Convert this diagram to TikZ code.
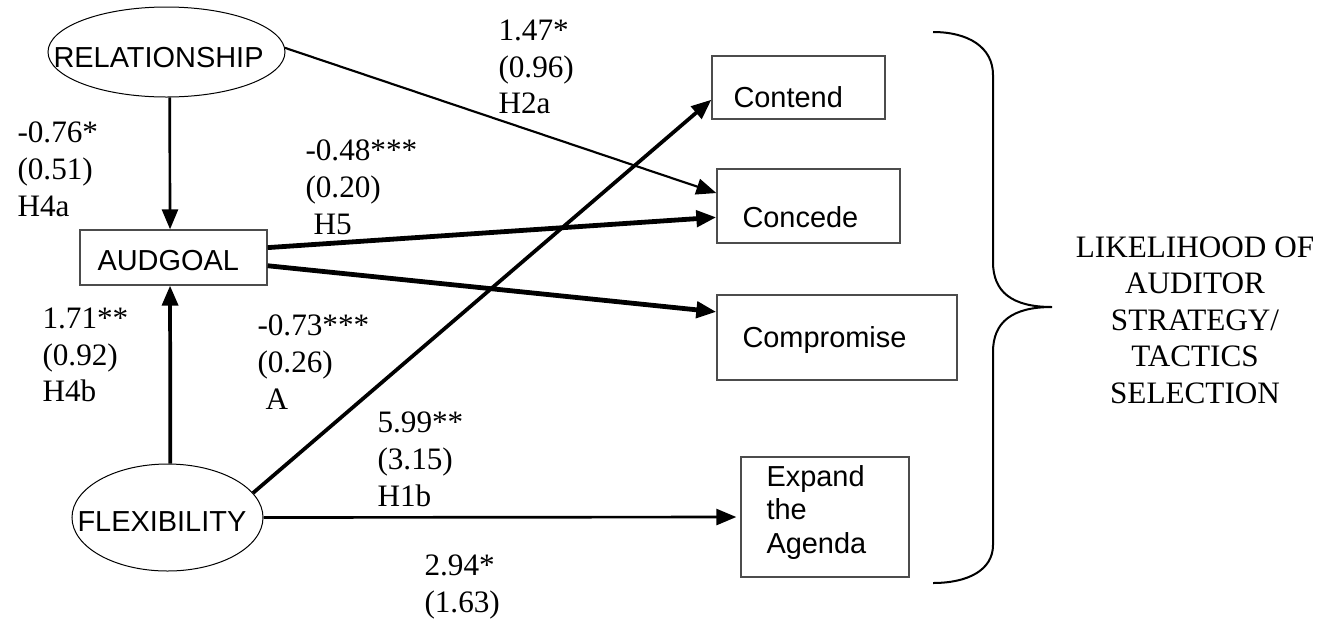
\documentclass[tikz,border=0pt]{standalone}
\usepackage{fontspec}
\setmainfont{Liberation Serif}
\setsansfont{Liberation Sans}
\usetikzlibrary{shapes.geometric,arrows.meta}

\tikzset{every picture/.style={line width=0.75pt}}
\tikzset{
  latent/.style={draw=black, ellipse, inner sep=0pt},
  obsbox/.style={draw=black!70, rectangle, inner sep=0pt, line width=1pt},
  boxtext/.style={inner sep=0pt, align=left, font=\sffamily\fontsize{21.7}{25.1}\selectfont},
  coef/.style={inner sep=0pt, anchor=north west, align=left, font=\fontsize{23.4}{27.5}\selectfont},
  link/.style={-{Triangle[length=15pt,width=12pt]}},
}

\begin{document}
\begin{tikzpicture}[x=0.75pt,y=0.75pt,yscale=-1,xscale=1]
\useasboundingbox (0,0) rectangle (1331,622);

%Shape: Ellipse [RELATIONSHIP]
\node (rel) [latent, minimum width=177.75pt, minimum height=67.5pt] at (166.5,52) {};
%Shape: Ellipse [FLEXIBILITY]
\node (flex) [latent, minimum width=143.25pt, minimum height=80.25pt] at (167.5,517.5) {};
%Shape: Rectangle [AUDGOAL]
\node (aud) [obsbox, minimum width=140.25pt, minimum height=41.25pt] at (173.5,257.5) {};
%Shape: Rectangle [Contend]
\node (cont) [obsbox, minimum width=129.75pt, minimum height=47.25pt] at (798.5,87.5) {};
%Shape: Rectangle [Concede]
\node (conc) [obsbox, minimum width=137.25pt, minimum height=55.5pt] at (808.5,206) {};
%Shape: Rectangle [Compromise]
\node (comp) [obsbox, minimum width=180pt, minimum height=63.75pt] at (837,337.5) {};
%Shape: Rectangle [Expand the Agenda]
\node (expd) [obsbox, minimum width=126pt, minimum height=90pt] at (825,517) {};

%Straight Lines
\draw [link, line width=2pt] (rel.-86) -- (aud.97);
\draw [link, line width=1.6pt] (rel.2) -- (conc.172);
\draw [link, line width=3.6pt] (aud.6) -- (conc.187);
\draw [link, line width=3.6pt] (aud.-5) -- (comp.168);
\draw [link, line width=2.8pt] (flex.87) -- (aud.-97);
\draw [link, line width=2.8pt] (flex.16) -- (cont.188);
\draw [link, line width=2pt, shorten >=3pt] (flex.east) -- (expd.west);

%Shape: Brace
\draw [line width=1.5pt] (933,32) .. controls (968,32) and (993,47) .. (993,75) -- (993,262) .. controls (993,292) and (1012,307) .. (1052,307) .. controls (1012,307) and (993,322) .. (993,352) -- (993,545) .. controls (993,570) and (968,583) .. (933,583) ;

% Text Node
\node (relT) [boxtext, anchor=base west] at (53,67) {RELATIONSHIP};
% Text Node
\node (flexT) [boxtext, anchor=base west] at (77,531) {FLEXIBILITY};
% Text Node
\node (audT) [boxtext, anchor=base west] at (97,270.4) {AUDGOAL};
% Text Node
\node (contT) [boxtext, anchor=base west] at (733,107.4) {Contend};
% Text Node
\node (concT) [boxtext, anchor=base west] at (742,227.4) {Concede};
% Text Node
\node (compT) [boxtext, anchor=base west] at (742,347.4) {Compromise};
% Text Node
\node (expdT) [boxtext, anchor=north west] at (766,464.7) {Expand\\the\\Agenda};

% Text Node
\node (h4a) [coef] at (17,121.5) {-0.76*\\(0.51)\\H4a};
% Text Node
\node (h5) [coef] at (305,139.5) {-0.48***\\(0.20)\\\hspace*{6pt}H5};
% Text Node
\node (h2a) [coef] at (498,19.5) {1.47*\\(0.96)\\H2a};
% Text Node
\node (h4b) [coef] at (42,307.5) {1.71**\\(0.92)\\H4b};
% Text Node
\node (hA) [coef] at (257,314.5) {-0.73***\\(0.26)\\\hspace*{6pt}A};
% Text Node
\node (h1b) [coef] at (377,411.5) {5.99**\\(3.15)\\H1b};
% Text Node
\node (h1a) [coef] at (424,554.5) {2.94*\\(1.63)};
% Text Node
\node (likely) [inner sep=0pt, align=center, font=\fontsize{23.4}{27.4}\selectfont] at (1195,320) {LIKELIHOOD OF\\AUDITOR\\STRATEGY/\\TACTICS\\SELECTION};

\end{tikzpicture}
\end{document}
